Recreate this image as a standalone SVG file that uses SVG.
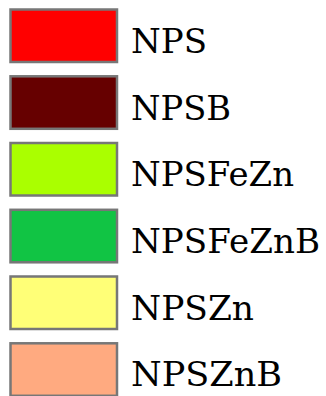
<svg xmlns="http://www.w3.org/2000/svg" width="326" height="396" viewBox="0 0 326 396">
<style>
.sw{stroke:#777;stroke-width:2.5}
.lb{font-family:'DejaVu Serif',serif;font-size:34px;fill:#000}
</style>
<rect width="326" height="396" fill="#fff"/>
<g id="item-nps"><rect class="sw" x="10.5" y="9.5" width="106.5" height="52.5" fill="#ff0000"/><text class="lb" x="131" y="52.7" textLength="76" lengthAdjust="spacingAndGlyphs">NPS</text></g>
<g id="item-npsb"><rect class="sw" x="10.5" y="76.3" width="106.5" height="52.5" fill="#660000"/><text class="lb" x="131" y="119.5" textLength="100" lengthAdjust="spacingAndGlyphs">NPSB</text></g>
<g id="item-npsfezn"><rect class="sw" x="10.5" y="143" width="106.5" height="52.5" fill="#aaff00"/><text class="lb" x="131" y="186.2" textLength="163" lengthAdjust="spacingAndGlyphs">NPSFeZn</text></g>
<g id="item-npsfeznb"><rect class="sw" x="10.5" y="209.8" width="106.5" height="52.5" fill="#11c444"/><text class="lb" x="131" y="252.9" textLength="189" lengthAdjust="spacingAndGlyphs">NPSFeZnB</text></g>
<g id="item-npszn"><rect class="sw" x="10.5" y="276.5" width="106.5" height="52.5" fill="#ffff77"/><text class="lb" x="131" y="319.7" textLength="123" lengthAdjust="spacingAndGlyphs">NPSZn</text></g>
<g id="item-npsznb"><rect class="sw" x="10.5" y="343.3" width="106.5" height="52.5" fill="#ffaa80"/><text class="lb" x="131" y="386.4" textLength="151" lengthAdjust="spacingAndGlyphs">NPSZnB</text></g>
</svg>
